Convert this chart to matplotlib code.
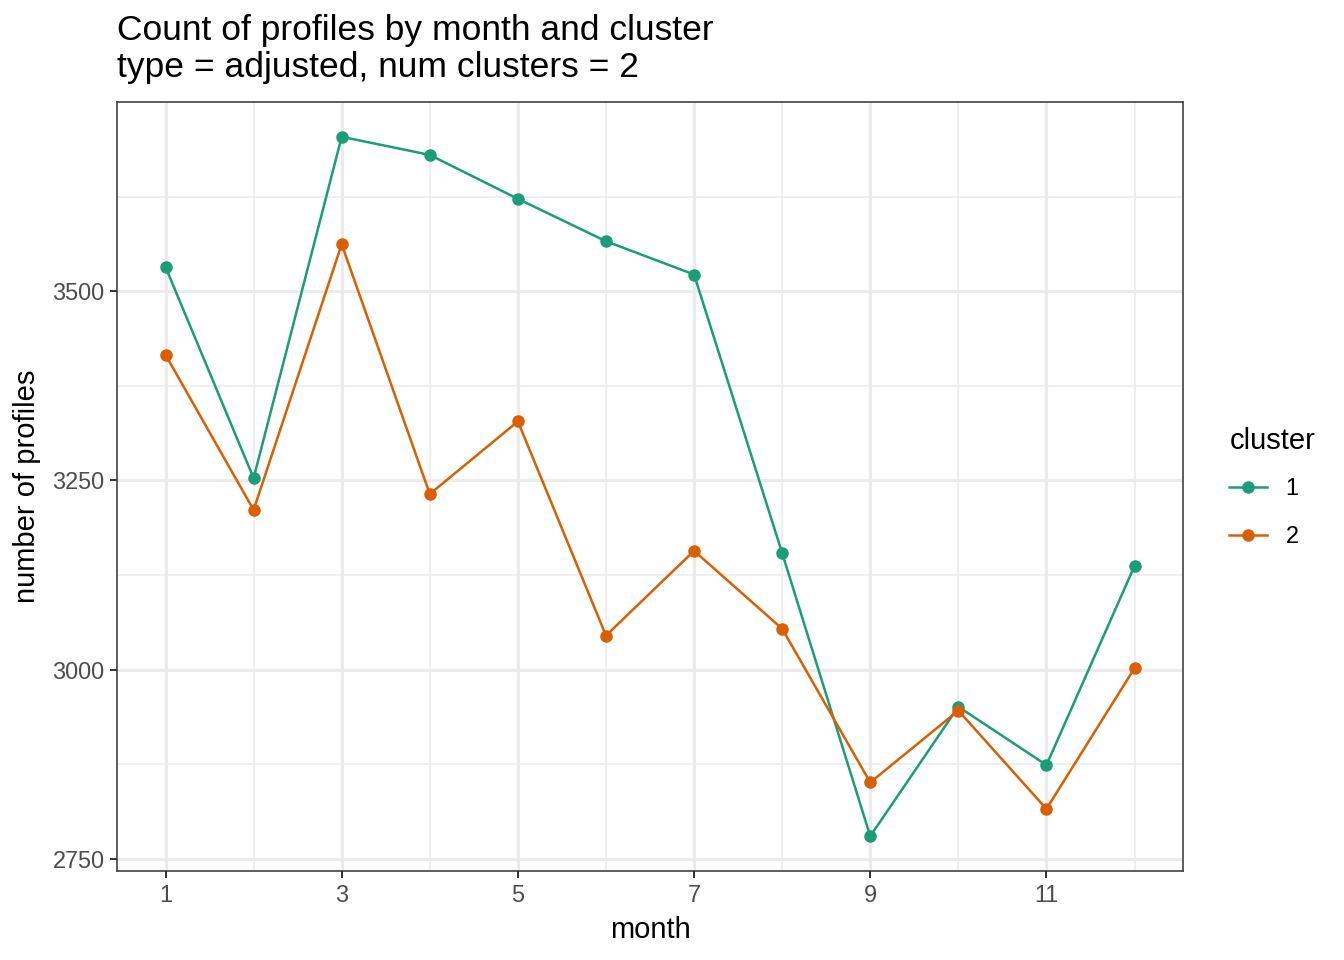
import matplotlib
matplotlib.use("Agg")
import matplotlib.pyplot as plt
from matplotlib.lines import Line2D

plt.rcParams['font.family'] = ['Liberation Sans', 'DejaVu Sans']

months = [1, 2, 3, 4, 5, 6, 7, 8, 9, 10, 11, 12]
cluster1 = [3532, 3253, 3704, 3680, 3622, 3566, 3522, 3154, 2780, 2951, 2874, 3137]
cluster2 = [3416, 3211, 3562, 3232, 3328, 3045, 3157, 3054, 2851, 2946, 2816, 3002]
colors = ["#1B9E77", "#D95F02"]

fig = plt.figure(figsize=(13.44, 9.6), dpi=100)
ax = fig.add_axes([0.0871, 0.0927, 0.7931, 0.8011])

for vals, c in zip([cluster1, cluster2], colors):
    ax.plot(months, vals, color=c, lw=1.8, marker="o", ms=8, zorder=3)

ax.set_xlim(0.45, 12.55)
ax.set_ylim(2734, 3750)
ax.set_xticks([1, 3, 5, 7, 9, 11])
ax.set_xticks([2, 4, 6, 8, 10, 12], minor=True)
ax.set_yticks([2750, 3000, 3250, 3500])
ax.set_yticks([2875, 3125, 3375, 3625], minor=True)
ax.grid(which="major", color="#EBEBEB", lw=2.2)
ax.grid(which="minor", color="#EBEBEB", lw=1.1)
ax.set_axisbelow(True)
ax.tick_params(which="major", length=5, width=1.4, color="#333333", pad=4,
               labelsize=16.9, labelcolor="#4D4D4D")
ax.tick_params(which="minor", length=0)
for s in ax.spines.values():
    s.set_color("#333333")
    s.set_linewidth(1.1)

ax.set_xlabel("month", fontsize=21, labelpad=7)
ax.set_ylabel("number of profiles", fontsize=21, labelpad=8)

fig.text(0.087, 0.985, "Count of profiles by month and cluster\ntype = adjusted, num clusters = 2",
         fontsize=25.5, va="top", ha="left", linespacing=1.12)

handles = [Line2D([], [], color=c, lw=1.8, marker="o", ms=8) for c in colors]
leg = fig.legend(handles, ["1", "2"], title="cluster", loc="center left",
                 bbox_to_anchor=(0.899, 0.492), frameon=False, fontsize=16.9,
                 title_fontsize=21, handlelength=1.6, handletextpad=0.8,
                 labelspacing=1.05)
leg._legend_box.align = "left"
leg._legend_box.sep = 16

fig.savefig("out.png", dpi=100)
